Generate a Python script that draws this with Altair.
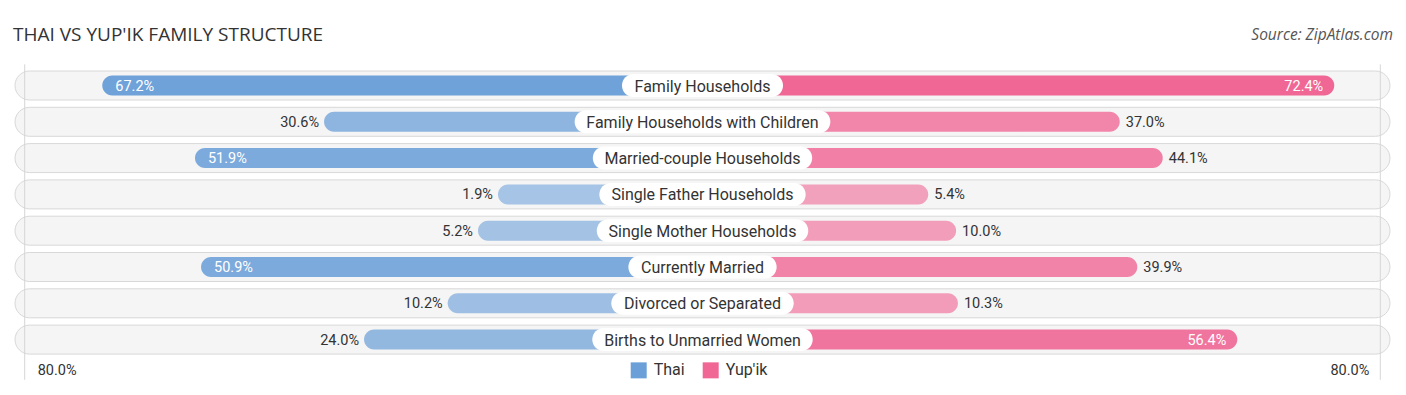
import altair as alt
import pandas as pd

# ---------------- data ----------------
categories = [
    "Family Households",
    "Family Households with Children",
    "Married-couple Households",
    "Single Father Households",
    "Single Mother Households",
    "Currently Married",
    "Divorced or Separated",
    "Births to Unmarried Women",
]
thai = [67.2, 30.6, 51.9, 1.9, 5.2, 50.9, 10.2, 24.0]
yupik = [72.4, 37.0, 44.1, 5.4, 10.0, 39.9, 10.3, 56.4]
series = ["Thai", "Yup'ik"]
axis_values = [80.0, 80.0]
axis_sides = [-1, 1]
title_text = "THAI VS YUP'IK FAMILY STRUCTURE"
source_text = "Source: ZipAtlas.com"

# ---------------- style / layout ----------------
PX = 6.06          # pixels per percentage unit
OFF = 31.85        # units hidden behind the centre label
W = 1381
ROW = 36.3
H = ROW * len(categories)
D = W / 2 / PX
BLUE = "#6a9fd8"
PINK = "#f06795"
TXT = "#333333"
FONT = "Roboto"
LABEL_SIZE = 16
BOX_PAD = 14

EM = {
    " ": .248, "-": .27, "a": .531, "b": .546, "c": .51, "d": .548, "e": .517,
    "f": .345, "g": .546, "h": .537, "i": .237, "l": .237, "m": .855, "n": .538,
    "o": .557, "p": .546, "r": .331, "s": .503, "t": .319, "u": .537, "v": .473,
    "w": .732, "y": .462, "B": .623, "C": .652, "D": .658, "F": .554, "H": .696,
    "M": .852, "S": .595, "U": .633, "W": .868,
}


def box_half(text):
    w = sum(EM.get(ch, .55) for ch in text) * LABEL_SIZE + 2 * BOX_PAD
    return w / 2 / PX


rows = []
for i, c in enumerate(categories):
    for s, vals, sign in (("Thai", thai, -1), ("Yup'ik", yupik, 1)):
        v = vals[i]
        rows.append({
            "category": c, "series": s, "value": v,
            "end": sign * (OFF + v), "zero": 0.0, "side": sign,
            "inside": bool(v > 50), "label": f"{v:.1f}%",
        })
bars_df = pd.DataFrame(rows)

cats_df = pd.DataFrame({"category": categories})
cats_df["hi"] = [box_half(c) for c in categories]
cats_df["lo"] = -cats_df["hi"]
cats_df["zero"] = 0.0
cats_df["pl"] = -D + 0.5
cats_df["pr"] = D - 0.5

axis_df = pd.DataFrame({
    "side": axis_sides,
    "pos": [sd * (OFF + v) for sd, v in zip(axis_sides, axis_values)],
    "label": [f"{v:.1f}%" for v in axis_values],
})

xscale = alt.Scale(domain=[-D, D], nice=False, zero=False)
yenc = alt.Y("category:N", sort=categories, axis=None,
             scale=alt.Scale(domain=categories, paddingInner=0, paddingOuter=0))

pills = alt.Chart(cats_df).mark_bar(
    size=29, cornerRadius=14.5, fill="#f5f5f5", stroke="#d8d8d8", strokeWidth=1
).encode(
    x=alt.X("pl:Q", scale=xscale, axis=None),
    x2="pr:Q",
    y=yenc,
)

rules = alt.Chart(axis_df).mark_rule(color="#d6d6d6", strokeWidth=1).encode(
    x=alt.X("pos:Q", scale=xscale, axis=None),
    y=alt.value(-3),
    y2=alt.value(H + 22),
)

bars = alt.Chart(bars_df).mark_bar(size=20, cornerRadius=10).encode(
    x=alt.X("end:Q", scale=xscale, axis=None),
    x2="zero:Q",
    y=yenc,
    color=alt.Color(
        "series:N",
        scale=alt.Scale(domain=series, range=[BLUE, PINK]),
        legend=alt.Legend(
            title=None, orient="none", legendX=618.7, legendY=295,
            direction="horizontal", symbolType="square", symbolSize=256,
            symbolStrokeWidth=0, symbolOpacity=1, labelFont=FONT,
            labelFontSize=16, labelColor=TXT, labelOffset=7, columnPadding=18,
            labelLimit=200,
        ),
    ),
    opacity=alt.Opacity("value:Q", scale=alt.Scale(domain=[0, 72.4], range=[0.56, 1.0]),
                        legend=None),
)

boxes = alt.Chart(cats_df).mark_bar(size=23, cornerRadius=11.5, color="white").encode(
    x=alt.X("lo:Q", scale=xscale, axis=None),
    x2="hi:Q",
    y=yenc,
)

cat_text = alt.Chart(cats_df).mark_text(
    font=FONT, fontSize=LABEL_SIZE, color=TXT, baseline="middle", align="center", dy=1
).encode(
    x=alt.X("zero:Q", scale=xscale, axis=None),
    y=yenc,
    text="category:N",
)

base_val = alt.Chart(bars_df)
vfont = dict(font=FONT, fontSize=14.5, baseline="middle", dy=1)

left_in = base_val.transform_filter("datum.side < 0 && datum.inside").mark_text(
    align="left", dx=13, color="white", **vfont
).encode(x=alt.X("end:Q", scale=xscale, axis=None), y=yenc, text="label:N")
left_out = base_val.transform_filter("datum.side < 0 && !datum.inside").mark_text(
    align="right", dx=-5, color=TXT, **vfont
).encode(x=alt.X("end:Q", scale=xscale, axis=None), y=yenc, text="label:N")
right_in = base_val.transform_filter("datum.side > 0 && datum.inside").mark_text(
    align="right", dx=-11, color="white", **vfont
).encode(x=alt.X("end:Q", scale=xscale, axis=None), y=yenc, text="label:N")
right_out = base_val.transform_filter("datum.side > 0 && !datum.inside").mark_text(
    align="left", dx=6, color=TXT, **vfont
).encode(x=alt.X("end:Q", scale=xscale, axis=None), y=yenc, text="label:N")

ax_left = alt.Chart(axis_df).transform_filter("datum.side < 0").mark_text(
    font=FONT, fontSize=14.5, color=TXT, align="left", baseline="middle", dx=13
).encode(x=alt.X("pos:Q", scale=xscale, axis=None), y=alt.value(H + 13), text="label:N")
ax_right = alt.Chart(axis_df).transform_filter("datum.side > 0").mark_text(
    font=FONT, fontSize=14.5, color=TXT, align="right", baseline="middle", dx=-11
).encode(x=alt.X("pos:Q", scale=xscale, axis=None), y=alt.value(H + 13), text="label:N")

head_df = pd.DataFrame({"title": [title_text], "source": [source_text]})
title = alt.Chart(head_df).mark_text(
    font="Open Sans", fontSize=19, color=TXT, align="left", baseline="alphabetic",
).encode(x=alt.value(1), y=alt.value(-26), text="title:N")
source = alt.Chart(head_df).mark_text(
    font="Open Sans", fontSize=15.5, fontStyle="italic", color="#555555",
    align="right", baseline="alphabetic",
).encode(x=alt.value(W), y=alt.value(-27), text="source:N")

chart = alt.layer(
    pills, rules, bars, boxes, cat_text, left_in, left_out, right_in, right_out,
    ax_left, ax_right, title, source,
).properties(
    width=W,
    height=H,
    autosize=alt.AutoSizeParams(type="none"),
    padding={"left": 4, "top": 59.35, "right": 5, "bottom": 30},
).configure_view(stroke=None)

chart.save("out.html", embed_options={"renderer": "svg", "actions": False})
